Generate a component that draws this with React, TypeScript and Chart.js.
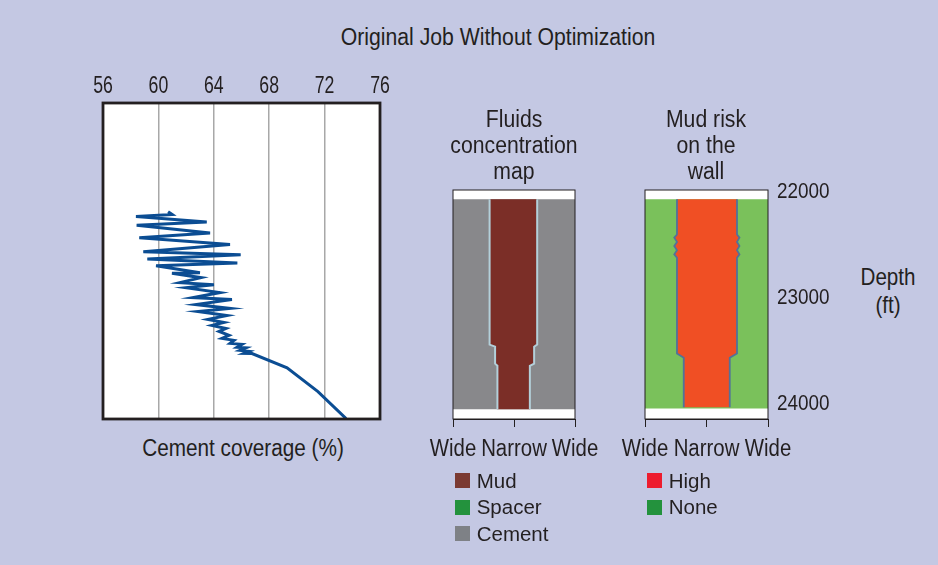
import React, { useEffect, useRef } from 'react';
import { Chart, registerables } from 'chart.js';

Chart.register(...registerables);

// ---------- data ----------
const mainTitle = 'Original Job Without Optimization';
const coverageTitle = 'Cement coverage (%)';
const fluidsTitle = ['Fluids', 'concentration', 'map'];
const riskTitle = ['Mud risk', 'on the', 'wall'];
const depthTitle = ['Depth', '(ft)'];

const coverageTicks = [56, 60, 64, 68, 72, 76];
const coverage = [
  60.7, 61.0, 58.38, 63.49, 58.43, 63.73, 58.62, 65.17, 58.91, 65.94, 59.2, 65.7, 59.83,
  63.0, 60.98, 63.08, 61.56, 64.01, 61.99, 64.45, 62.5, 65.31, 62.71, 65.17, 62.86, 64.95,
  63.58, 64.74, 63.87, 64.88, 64.38, 65.1, 64.59, 65.46, 65.17, 66.04, 65.68, 66.32, 65.89,
  66.54, 66.18, 66.76, 69.29, 71.52, 73.55,
];
const coverageDepth = [
  22205, 22232, 22251, 22301, 22332, 22405, 22452, 22515, 22583, 22611, 22652, 22690, 22715,
  22781, 22786, 22828, 22875, 22894, 22922, 22969, 23016, 23035, 23082, 23119, 23148, 23185,
  23222, 23251, 23279, 23308, 23336, 23373, 23402, 23420, 23449, 23458, 23486, 23491, 23515,
  23524, 23543, 23545, 23679, 23905, 24159,
];
const coverageDepthTop = 21178;

const depthTicks = [22000, 23000, 24000];
const depthTop = 22000;
const depthBottom = 24163;

const positionTicks = [0, 0.5, 1];
const positionLabels = ['Wide', 'Narrow', 'Wide'];

// fluids concentration map
const fluidTop = 22088;
const fluidBottom = 24072;
const mudLeftX = [0.3, 0.3, 0.345, 0.345, 0.364, 0.364];
const mudRightX = [0.69, 0.69, 0.665, 0.665, 0.63, 0.63];
const mudDepth = [22088, 23460, 23480, 23640, 23660, 24072];

// mud risk on the wall
const riskTop = 22088;
const riskBottom = 24063;
const riskLeftX = [0.26, 0.26, 0.238, 0.26, 0.238, 0.26, 0.238, 0.26, 0.26, 0.315, 0.315];
const riskRightX = [0.748, 0.748, 0.768, 0.748, 0.768, 0.748, 0.768, 0.748, 0.748, 0.689, 0.689];
const riskDepth = [22088, 22420, 22450, 22490, 22529, 22568, 22608, 22640, 23545, 23585, 24053];

const fluidLegend = ['Mud', 'Spacer', 'Cement'];
const fluidLegendColors = ['#7b3a32', '#23923d', '#7e8186'];
const riskLegend = ['High', 'None'];
const riskLegendColors = ['#ed1c2e', '#23923d'];

// ---------- style ----------
const FONT = '"Liberation Sans", Arial, Helvetica, sans-serif';
const INK = '#231f20';
const BG = '#c4c8e3';
const LINE = '#0b4d93';
const CEMENT = '#88888b';
const MUD = '#7b2e27';
const FRINGE = '#b3cfd9';
const GREEN = '#7ac15b';
const ORANGE = '#f04f24';
const EDGE = '#52729a';

const framePlugin = (width: number) => ({
  id: 'frame',
  beforeDraw(chart: any) {
    const { ctx, chartArea: a } = chart;
    ctx.save();
    ctx.fillStyle = '#ffffff';
    ctx.fillRect(a.left, a.top, a.right - a.left, a.bottom - a.top);
    ctx.restore();
  },
  afterDatasetsDraw(chart: any) {
    const { ctx, chartArea: a } = chart;
    ctx.save();
    ctx.strokeStyle = INK;
    ctx.lineWidth = width;
    ctx.strokeRect(a.left, a.top, a.right - a.left, a.bottom - a.top);
    ctx.restore();
  },
});

// draws the scale's own tick labels in a condensed face (horizontal squeeze)
type TickStyle = { axis: string; mode: 'top' | 'bottom' | 'right'; size: number; sx: number; offset: number };
const condensedTicks = (items: TickStyle[]) => ({
  id: 'condensedTicks',
  afterDraw(chart: any) {
    const { ctx } = chart;
    for (const it of items) {
      const scale = chart.scales[it.axis];
      if (!scale) continue;
      scale.ticks.forEach((t: any, i: number) => {
        const label = t.label != null ? String(t.label) : String(t.value);
        const p = scale.getPixelForValue(t.value);
        let x = p;
        let y = p;
        ctx.save();
        ctx.font = `${it.size}px ${FONT}`;
        ctx.fillStyle = INK;
        ctx.textBaseline = 'alphabetic';
        if (it.mode === 'top') {
          y = scale.bottom - it.offset;
          ctx.textAlign = 'center';
        } else if (it.mode === 'bottom') {
          y = scale.top + it.offset;
          ctx.textAlign = 'center';
        } else {
          x = scale.left + it.offset;
          y = p + (it.size * 0.716) / 2;
          ctx.textAlign = 'left';
        }
        ctx.translate(x, y);
        ctx.scale(it.sx, 1);
        ctx.fillText(label, 0, 0);
        ctx.restore();
      });
    }
  },
});

const pts = (xs: number[], ys: number[]) => xs.map((x, i) => ({ x, y: ys[i] }));

const baseOptions = (padding: any) => ({
  animation: false,
  responsive: false,
  maintainAspectRatio: false,
  events: [],
  layout: { padding },
  plugins: { legend: { display: false }, tooltip: { enabled: false }, title: { display: false } },
});

const positionAxis = {
  type: 'linear',
  position: 'bottom',
  min: 0,
  max: 1,
  afterBuildTicks: (s: any) => {
    s.ticks = positionTicks.map((v) => ({ value: v }));
  },
  afterFit: (s: any) => {
    s.height = 51;
    s.paddingLeft = 0;
    s.paddingRight = 0;
  },
  ticks: {
    display: false,
    callback: (_v: any, i: number) => positionLabels[i],
    maxRotation: 0,
    autoSkip: false,
  },
  grid: { drawOnChartArea: false, drawTicks: true, tickLength: 8, color: INK, lineWidth: 1 },
  border: { display: true, color: INK, width: 1 },
};

const hiddenDepth = { type: 'linear', reverse: true, min: depthTop, max: depthBottom, display: false };

const mapDatasets = (
  leftX: number[],
  rightX: number[],
  depth: number[],
  top: number,
  bottom: number,
  bandColor: string,
  baseColor: string,
  edgeColor: string,
  edgeWidth: number,
) => {
  const left = pts(leftX, depth);
  const right = pts(rightX, depth);
  const none = 'rgba(0,0,0,0)';
  return [
    { data: left, showLine: true, borderColor: edgeColor, borderWidth: edgeWidth, pointRadius: 0, fill: false, order: 0 },
    { data: right, showLine: true, borderColor: edgeColor, borderWidth: edgeWidth, pointRadius: 0, fill: false, order: 0 },
    {
      data: [...left, ...right.slice().reverse()],
      showLine: true,
      borderColor: none,
      borderWidth: 0,
      backgroundColor: bandColor,
      fill: 'shape',
      pointRadius: 0,
      order: 1,
    },
    {
      data: pts([positionTicks[0], positionTicks[2], positionTicks[2], positionTicks[0]], [top, top, bottom, bottom]),
      showLine: true,
      borderColor: none,
      borderWidth: 0,
      backgroundColor: baseColor,
      fill: 'shape',
      pointRadius: 0,
      order: 2,
    },
  ];
};

function useChart(ref: React.RefObject<HTMLCanvasElement | null>, make: () => any) {
  useEffect(() => {
    if (!ref.current) return;
    const chart = new Chart(ref.current, make());
    return () => chart.destroy();
  }, []);
}

const Txt = ({ x, y, lines, size = 23.3, lh = 26, sx = 0.91 }: any) => (
  <div
    style={{
      position: 'absolute',
      left: x,
      top: y,
      transform: `translate(-50%, -50%) scaleX(${sx})`,
      fontFamily: FONT,
      fontSize: size,
      lineHeight: `${lh}px`,
      color: INK,
      whiteSpace: 'nowrap',
      textAlign: 'center',
    }}
  >
    {lines.map((l: string, i: number) => (
      <div key={i}>{l}</div>
    ))}
  </div>
);

const Legend = ({ x, y, labels, colors }: any) => (
  <div style={{ position: 'absolute', left: x, top: y }}>
    {labels.map((l: string, i: number) => (
      <div key={i} style={{ position: 'absolute', left: 0, top: i * 26.5, height: 15, whiteSpace: 'nowrap' }}>
        <div style={{ position: 'absolute', left: 0, top: 0, width: 15, height: 15, background: colors[i] }} />
        <div
          style={{
            position: 'absolute',
            left: 21.7,
            top: 7.5,
            transform: 'translateY(-50%)',
            fontFamily: FONT,
            fontSize: 20.5,
            lineHeight: '24px',
            color: INK,
          }}
        >
          {l}
        </div>
      </div>
    ))}
  </div>
);

export default function App() {
  const c1 = useRef<HTMLCanvasElement>(null);
  const c2 = useRef<HTMLCanvasElement>(null);
  const c3 = useRef<HTMLCanvasElement>(null);

  useEffect(() => {
    document.body.style.margin = '0';
    document.body.style.background = BG;
  }, []);

  useChart(c1, () => ({
    type: 'scatter',
    data: {
      datasets: [
        {
          data: pts(coverage, coverageDepth),
          showLine: true,
          borderColor: LINE,
          borderWidth: 3,
          pointRadius: 0,
          tension: 0,
          fill: false,
        },
      ],
    },
    options: {
      ...baseOptions({ left: 43, right: 40, top: 13, bottom: 11 }),
      scales: {
        x: {
          type: 'linear',
          position: 'top',
          min: coverageTicks[0],
          max: coverageTicks[coverageTicks.length - 1],
          afterBuildTicks: (s: any) => {
            s.ticks = coverageTicks.map((v) => ({ value: v }));
          },
          afterFit: (s: any) => {
            s.height = 40;
            s.paddingLeft = 0;
            s.paddingRight = 0;
          },
          ticks: { display: false, callback: (v: any) => String(v), maxRotation: 0, autoSkip: false },
          grid: { color: '#a8a8a8', lineWidth: 1.5, drawTicks: false },
          border: { display: false },
        },
        y: { type: 'linear', reverse: true, min: coverageDepthTop, max: depthBottom, display: false },
      },
    },
    plugins: [framePlugin(2.8), condensedTicks([{ axis: 'x', mode: 'top', size: 23.3, sx: 0.76, offset: 9.7 }])],
  }));

  useChart(c2, () => ({
    type: 'scatter',
    data: {
      datasets: mapDatasets(mudLeftX, mudRightX, mudDepth, fluidTop, fluidBottom, MUD, CEMENT, FRINGE, 2),
    },
    options: {
      ...baseOptions({ left: 38, right: 40, top: 10, bottom: 0 }),
      scales: { x: positionAxis, y: hiddenDepth },
    },
    plugins: [framePlugin(1), condensedTicks([{ axis: 'x', mode: 'bottom', size: 23.3, sx: 0.875, offset: 37 }])],
  }));

  useChart(c3, () => ({
    type: 'scatter',
    data: {
      datasets: mapDatasets(riskLeftX, riskRightX, riskDepth, riskTop, riskBottom, ORANGE, GREEN, EDGE, 1.8),
    },
    options: {
      ...baseOptions({ left: 35, right: 2, top: 10, bottom: 0 }),
      scales: {
        x: positionAxis,
        y: {
          type: 'linear',
          position: 'right',
          reverse: true,
          min: depthTop,
          max: depthBottom,
          afterBuildTicks: (s: any) => {
            s.ticks = depthTicks.map((v) => ({ value: v }));
          },
          afterFit: (s: any) => {
            s.width = 80;
            s.paddingTop = 0;
            s.paddingBottom = 0;
          },
          ticks: { display: false, callback: (v: any) => String(v), autoSkip: false },
          grid: { display: false, drawTicks: false },
          border: { display: false },
        },
      },
    },
    plugins: [
      framePlugin(1),
      condensedTicks([
        { axis: 'x', mode: 'bottom', size: 23.3, sx: 0.875, offset: 37 },
        { axis: 'y', mode: 'right', size: 22, sx: 0.86, offset: 9 },
      ]),
    ],
  }));

  return (
    <div
      style={{
        position: 'absolute',
        left: 0,
        top: 0,
        width: 938,
        height: 565,
        background: BG,
        overflow: 'hidden',
      }}
    >
      <canvas ref={c1} width={360} height={380} style={{ position: 'absolute', left: 60, top: 50, width: 360, height: 380 }} />
      <canvas ref={c2} width={200} height={290} style={{ position: 'absolute', left: 415, top: 180, width: 200, height: 290 }} />
      <canvas ref={c3} width={240} height={290} style={{ position: 'absolute', left: 610, top: 180, width: 240, height: 290 }} />
      <Txt x={497.5} y={36.7} lines={[mainTitle]} />
      <Txt x={242.5} y={448} lines={[coverageTitle]} sx={0.89} />
      <Txt x={514.3} y={144.5} lines={fluidsTitle} />
      <Txt x={705.7} y={144.5} lines={riskTitle} />
      <Txt x={888} y={290.7} lines={depthTitle} lh={28.5} size={23.7} sx={0.87} />
      <Legend x={455} y={473} labels={fluidLegend} colors={fluidLegendColors} />
      <Legend x={647} y={473} labels={riskLegend} colors={riskLegendColors} />
    </div>
  );
}
